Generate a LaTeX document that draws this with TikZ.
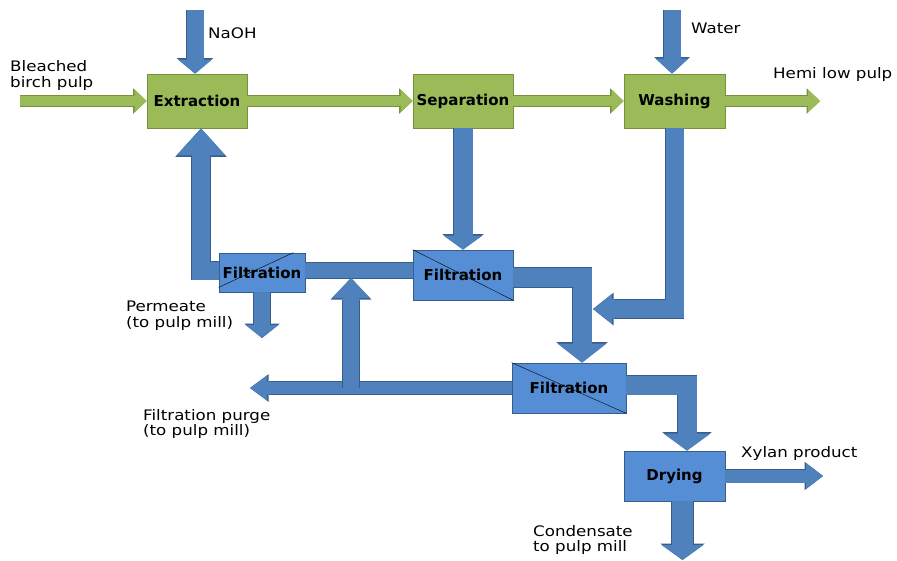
\documentclass[tikz,border=0pt]{standalone}
\usepackage{fontspec}
\setmainfont{DejaVu Sans}
\newfontfamily\lblfont[FakeStretch=1.15]{DejaVu Sans}
\usetikzlibrary{arrows.meta,positioning}

\definecolor{pulpgreen}{RGB}{155,187,89}
\definecolor{pulpedge}{RGB}{118,146,60}
\definecolor{liqblue}{RGB}{79,129,189}
\definecolor{liqedge}{RGB}{56,93,138}
\definecolor{unitblue}{RGB}{85,142,213}

\begin{document}
\begin{tikzpicture}[x=1pt,y=-1pt,
  greenbox/.style={draw=pulpedge,fill=pulpgreen,line width=0.8pt,minimum width=100pt,
    minimum height=54pt,inner sep=0pt,font=\bfseries\fontsize{15}{17}\selectfont},
  bluebox/.style={draw=liqedge,fill=unitblue,line width=0.8pt,inner sep=0pt,
    font=\bfseries\fontsize{15}{17}\selectfont},
  lbl/.style={font=\lblfont\fontsize{14.5}{15.5}\selectfont,align=left,inner sep=0pt,anchor=west},
  pulpflow/.style={draw=pulpgreen,line width=10pt,-{Triangle[width=23pt,length=12pt,line width=0pt]},
    preaction={draw=pulpedge,line width=11.2pt,-{Triangle[width=25.5pt,length=13.5pt,line width=0pt]}}},
  liquor/.style n args={3}{draw=liqblue,line width=#1,-{Triangle[width=#2,length=#3,line width=0pt]},
    preaction={draw=liqedge,line width=#1+1.2pt,-{Triangle[width=#2+2.5pt,length=#3+1.5pt,line width=0pt]}}},
  liqbar/.style={draw=liqblue,line width=#1,preaction={draw=liqedge,line width=#1+1.2pt}}]
  \useasboundingbox (0,0) rectangle (897,560);

  % process units
  \node[greenbox] (ext) at (197,101) {Extraction};
  \node[greenbox] (sep) at (463,101) {Separation};
  \node[greenbox,minimum width=101pt] (wash) at (674.5,101) {Washing};
  \node[bluebox,minimum width=86pt,minimum height=39pt] (f1) at (262,272.5) {Filtration};
  \node[bluebox,minimum width=100pt,minimum height=50pt] (f2) at (463,275) {Filtration};
  \node[bluebox,minimum width=114pt,minimum height=50pt] (f3) at (569,388) {Filtration};
  \node[bluebox,minimum width=101pt,minimum height=50pt] (dry) at (674.5,476) {Drying};

  % membrane lines
  \draw ([yshift=5pt]f1.south west) -- ([xshift=-12pt]f1.north east);
  \draw (f2.north west) -- (f2.south east);
  \draw (f3.north west) -- (f3.south east);

  % free ends
  \coordinate (pulpin) at (20,101);
  \coordinate (hemi) at (820,101);
  \coordinate (naoh) at (195,10);
  \coordinate (water) at (672,10);
  \coordinate (perm) at (262,338);
  \coordinate (purge) at (250,388);
  \coordinate (jn) at (351,388);
  \coordinate (jtop) at (351,278);
  \coordinate (merge) at (593,309);
  \coordinate (xylan) at (823,476);
  \coordinate (cond) at (682.5,560);

  % pulp line
  \draw[pulpflow] (pulpin) -- (ext.west);
  \draw[pulpflow] (ext.east) -- (sep.west);
  \draw[pulpflow] (sep.east) -- (wash.west);
  \draw[pulpflow] (wash.east) -- (hemi);

  % liquor lines
  \draw[liquor={17pt}{34pt}{14pt}] (naoh) -- (naoh |- ext.north);
  \draw[liquor={17pt}{33pt}{15pt}] (water) -- (water |- wash.north);
  \draw[liquor={18pt}{49pt}{27pt}] ([yshift=2pt]f1.west) -| ([xshift=4pt]ext.south);
  \draw[liqbar=15pt] ([yshift=2pt]f1.east) -- ([yshift=2pt]f1.east -| f2.west);
  \draw[liquor={12pt}{25pt}{17pt}] (f3.west) -- (purge);
  \draw[liquor={16pt}{38pt}{20pt}] (jn) -- (jtop);
  \draw[liquor={16pt}{33pt}{13pt}] (f1.south) -- (perm);
  \draw[liquor={19pt}{39pt}{14pt}] (sep.south) -- (f2.north);
  \draw[liquor={19pt}{49pt}{19pt}] ([yshift=-2.5pt]f2.east) -| ([xshift=13pt]f3.north);
  \draw[liquor={18pt}{30pt}{19pt}] (wash.south) |- (merge);
  \draw[liquor={19pt}{47pt}{17pt}] ([yshift=3pt]f3.east) -| ([xshift=12.5pt]dry.north);
  \draw[liquor={13pt}{26pt}{17pt}] (dry.east) -- (xylan);
  \draw[liquor={21pt}{42pt}{15pt}] ([xshift=8pt]dry.south) -- (cond);

  % stream labels
  \node[lbl] (lpulp) at (10,75.5) {Bleached\\birch pulp};
  \node[lbl] (lnaoh) at (208,33) {NaOH};
  \node[lbl] (lwater) at (691,28) {Water};
  \node[lbl] (lhemi) at (773,74) {Hemi low pulp};
  \node[lbl] (lperm) at (126,315.5) {Permeate\\(to pulp mill)};
  \node[lbl] (lpurge) at (143,424) {Filtration purge\\(to pulp mill)};
  \node[lbl] (lxylan) at (741,453) {Xylan product};
  \node[lbl] (lcond) at (533,540) {Condensate\\to pulp mill};
\end{tikzpicture}
\end{document}
